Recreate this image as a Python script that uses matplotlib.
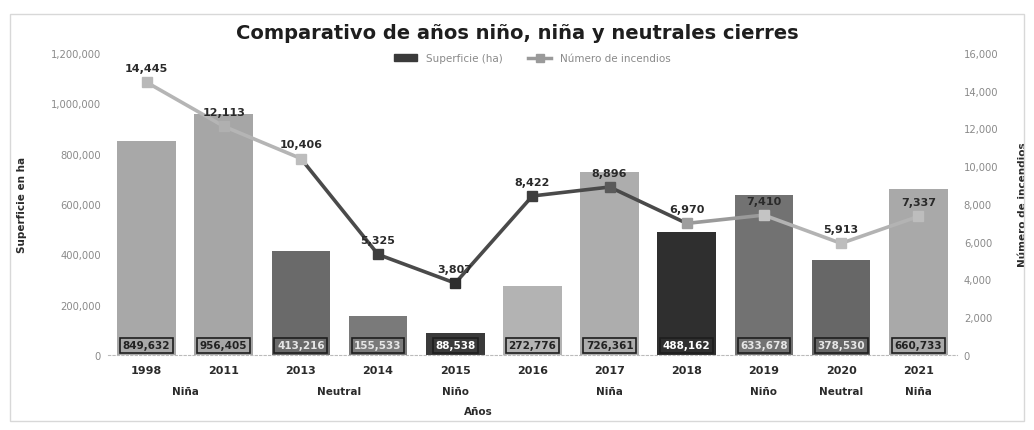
import matplotlib.pyplot as plt
import matplotlib.transforms as mtransforms
from matplotlib.lines import Line2D
from matplotlib.patches import Patch, FancyBboxPatch
import numpy as np

############################################
# DATA
############################################

years = ["1998", "2011", "2013", "2014", "2015", "2016", "2017", "2018", "2019", "2020", "2021"]
superficie = [849632, 956405, 413216, 155533, 88538, 272776, 726361, 488162, 633678, 378530, 660733]
incendios = [14445, 12113, 10406, 5325, 3807, 8422, 8896, 6970, 7410, 5913, 7337]

# phase label, first year index, last year index
phase_names = ["Niña", "Neutral", "Niño", "Niña", "Niño", "Neutral", "Niña"]
phase_start = [0, 2, 4, 6, 8, 9, 10]
phase_end = [1, 3, 4, 6, 8, 9, 10]

############################################
# STYLE
############################################

bar_colors = ["#a8a8a8", "#a6a6a6", "#6a6a6a", "#7a7a7a", "#3a3a3a", "#b3b3b3",
              "#adadad", "#2f2f2f", "#727272", "#676767", "#a9a9a9"]
box_text = ["#222222", "#222222", "#e6e6e6", "#e6e6e6", "#ffffff", "#222222",
            "#222222", "#ffffff", "#e6e6e6", "#e6e6e6", "#222222"]
seg_colors = ["#b5b5b5", "#b5b5b5", "#4a4a4a", "#4a4a4a", "#4a4a4a",
              "#4a4a4a", "#4a4a4a", "#9a9a9a", "#b3b3b3", "#b3b3b3"]
mk_colors = ["#b8b8b8", "#b0b0b0", "#bdbdbd", "#3e3e3e", "#2e2e2e", "#3e3e3e",
             "#5a5a5a", "#9e9e9e", "#c4c4c4", "#bdbdbd", "#bdbdbd"]

plt.rcParams['font.family'] = ['DejaVu Sans']

fig = plt.figure(figsize=(10.34, 4.31), dpi=100)
ax = fig.add_axes([0.1044, 0.174, 0.821, 0.701])
ax2 = ax.twinx()

x = np.arange(len(years))

############################################
# BARS
############################################

ax.bar(x, superficie, width=0.76, color=bar_colors, zorder=2)
ax.set_xlim(-0.5, len(years) - 0.5)
ax.set_ylim(0, 1200000)
ax.set_yticks(np.arange(0, 1200001, 200000))
ax.set_yticklabels([f"{v:,}" for v in range(0, 1200001, 200000)])

for i, v in enumerate(superficie):
    ax.text(i, 18000, f"{v:,}", ha="center", va="bottom", fontsize=7.5,
            fontweight="bold", color=box_text[i], zorder=5,
            bbox=dict(boxstyle="square,pad=0.25", fc=bar_colors[i],
                      ec="#1e1e1e", lw=1.2))

############################################
# LINE
############################################

ax2.set_ylim(0, 16000)
ax2.set_yticks(np.arange(0, 16001, 2000))
ax2.set_yticklabels([f"{v:,}" for v in range(0, 16001, 2000)])

for i in range(len(years) - 1):
    ax2.plot(x[i:i + 2], incendios[i:i + 2], color=seg_colors[i], lw=2.6,
             solid_capstyle="round", zorder=3)
for i, v in enumerate(incendios):
    ax2.plot(x[i], v, marker="s", ms=7, color=mk_colors[i], zorder=4)
    ax2.text(i, v + 500, f"{v:,}", ha="center", va="bottom", fontsize=8,
             fontweight="bold", color="#2a2a2a", zorder=5)

############################################
# AXES LOOK
############################################

for a in (ax, ax2):
    for s in a.spines.values():
        s.set_visible(False)
    a.tick_params(axis="y", length=0, labelsize=7.2, labelcolor="#8a8a8a", pad=5)
ax.spines["bottom"].set_visible(True)
ax.spines["bottom"].set_color("#bbbbbb")
ax.spines["bottom"].set_linestyle((0, (2, 2)))

ax.set_xticks(x)
ax.set_xticklabels(years, fontsize=8, fontweight="bold", color="#2a2a2a")
ax.tick_params(axis="x", length=0, pad=7)

trans = mtransforms.blended_transform_factory(ax.transData, ax.transAxes)
for name, s, e in zip(phase_names, phase_start, phase_end):
    ax.text((s + e) / 2, -0.12, name, transform=trans, ha="center", va="center",
            fontsize=7.5, fontweight="bold", color="#2a2a2a")

ax.set_xlabel("Años", fontsize=7.5, fontweight="bold", color="#2a2a2a")
ax.xaxis.set_label_coords(0.436, -0.17)
ax.set_ylabel("Superficie en ha", fontsize=7.5, fontweight="bold", color="#2a2a2a", labelpad=17)
ax2.set_ylabel("Número de incendios", fontsize=7.5, fontweight="bold", color="#2a2a2a", labelpad=14)

fig.suptitle("Comparativo de años niño, niña y neutrales cierres", y=0.945,
             fontsize=14, fontweight="bold", color="#1e1e1e")

handles = [Patch(color="#3a3a3a", label="Superficie (ha)"),
           Line2D([0], [0], color="#9a9a9a", lw=2.5, marker="s", ms=6,
                  label="Número de incendios")]
ax.legend(handles=handles, loc="upper center", bbox_to_anchor=(0.5, 1.03), ncol=2,
          frameon=False, fontsize=7.5, labelcolor="#8a8a8a", handlelength=2.2,
          columnspacing=2.5)

fig.patches.append(FancyBboxPatch((0.01, 0.02), 0.98, 0.945,
                                  boxstyle="square,pad=0", transform=fig.transFigure,
                                  fill=False, ec="#d8d8d8", lw=1.0))

fig.savefig("out.png", dpi=100, facecolor="white")
